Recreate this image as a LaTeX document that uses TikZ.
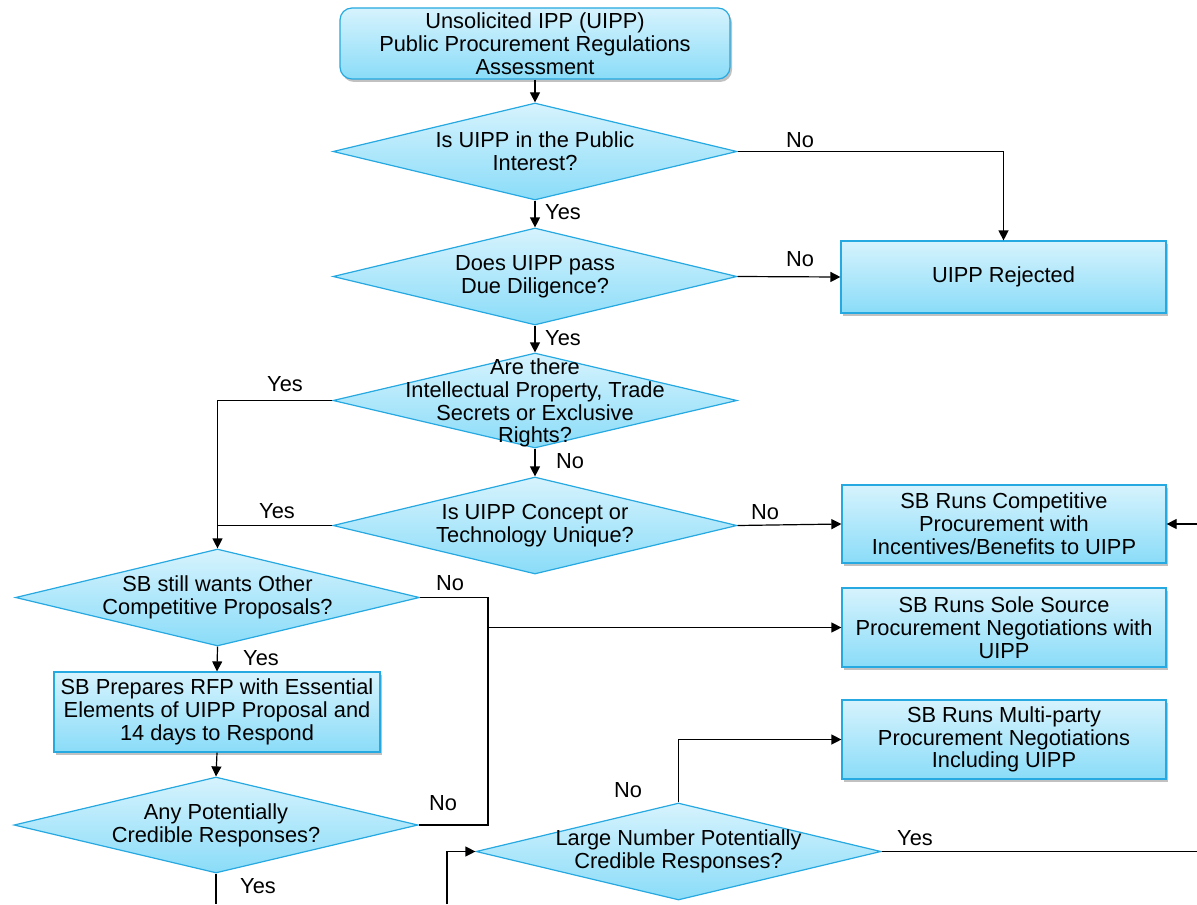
\documentclass[tikz,border=0pt]{standalone}
\usepackage{fontspec}
\setmainfont{Liberation Sans}
\usetikzlibrary{shapes.geometric,arrows.meta,shadows}
\definecolor{fillTop}{RGB}{214,243,253}
\definecolor{fillBot}{RGB}{138,220,248}
\definecolor{edgeBlue}{RGB}{38,168,224}
\begin{document}
\begin{tikzpicture}[x=0.5pt,y=-0.5pt,
  txt/.style={font=\fontsize{10.9}{11.4}\selectfont, align=center, inner sep=0pt},
  boxbase/.style={draw=edgeBlue, line width=0.6pt, top color=fillTop, bottom color=fillBot,
     drop shadow={shadow xshift=1pt, shadow yshift=-1.5pt, opacity=0.35, fill=black!70},
     font=\fontsize{10.9}{11.4}\selectfont, align=center, inner sep=2pt},
  procbox/.style={boxbase, rectangle, minimum width=162pt},
  startbox/.style={boxbase, rectangle, rounded corners=6pt},
  dia/.style={diamond, draw=edgeBlue, line width=0.6pt, top color=fillTop, bottom color=fillBot,
     inner sep=0pt, minimum width=202pt},
  lbl/.style={font=\fontsize{10.9}{11.4}\selectfont, inner sep=0pt},
  conn/.style={draw=black, line width=0.6pt},
  arr/.style={conn, -{Triangle[length=5pt,width=5pt]}}
]
\useasboundingbox (0,0) rectangle (1197,904);

% start
\node[startbox, minimum width=195pt, minimum height=35.5pt] (start) at (535,43.5)
  {Unsolicited IPP (UIPP)\\Public Procurement Regulations\\Assessment};

% diamonds
\node[dia, minimum height=48.5pt] (d1) at (535,151.5) {};
\node[txt] (t1) at (d1) {Is UIPP in the Public\\Interest?};
\node[dia, minimum height=48.5pt] (d2) at (535,276.5) {};
\node[txt] (t2) at (d2) {Does UIPP pass\\Due Diligence?};
\node[dia, minimum height=47.5pt] (d3) at (535,400.5) {};
\node[txt] (t3) at (535,403) {Are there\\Intellectual Property, Trade\\Secrets or Exclusive\\Rights?};
\node[dia, minimum height=48.5pt] (d4) at (535,525.5) {};
\node[txt] (t4) at (d4) {Is UIPP Concept or\\Technology Unique?};
\node[dia, minimum height=48.5pt] (d5) at (217.5,597.5) {};
\node[txt] (t5) at (d5) {SB still wants Other\\Competitive Proposals?};
\node[dia, minimum height=48pt] (d6) at (216,825) {};
\node[txt] (t6) at (d6) {Any Potentially\\Credible Responses?};
\node[dia, minimum height=48.5pt, minimum width=202.5pt] (d7) at (678.5,851.5) {};
\node[txt] (t7) at (d7) {Large Number Potentially\\Credible Responses?};

% process boxes
\node[procbox, minimum height=36pt, minimum width=162.5pt] (rej) at (1003.5,277) {UIPP Rejected};
\node[procbox, minimum height=39pt] (comp) at (1004,524)
  {SB Runs Competitive\\Procurement with\\Incentives/Benefits to UIPP};
\node[procbox, minimum height=39.5pt] (ss) at (1004,627.5)
  {SB Runs Sole Source\\Procurement Negotiations with\\UIPP};
\node[procbox, minimum height=39.5pt] (mp) at (1004,739.5)
  {SB Runs Multi-party\\Procurement Negotiations\\Including UIPP};
\node[procbox, minimum height=40pt, minimum width=163pt] (rfp) at (217,712)
  {SB Prepares RFP with Essential\\Elements of UIPP Proposal and\\14 days to Respond};

% coordinates
\coordinate (jn) at (488,627.5);
\coordinate (compin) at (1197,524);
\coordinate (out1) at (216,904);
\coordinate (out2) at (1197,851.5);
\coordinate (in7) at (447,904);

% connectors
\draw[arr] (start.south) -- (d1.north);
\draw[arr] (d1.east) -| (rej.north);
\draw[arr] (d1.south) -- (d2.north);
\draw[arr] (d2.east) -- (rej.west);
\draw[arr] (d2.south) -- (d3.north);
\draw[arr] (d3.west) -| (d5.north);
\draw[arr] (d3.south) -- (d4.north);
\draw[conn] (d4.west) -- (d4.west -| d5.north);
\draw[arr] (d4.east) -- (comp.west);
\draw[arr] (compin) -- (comp.east);
\draw[arr] (d5.east) -| (jn) -- (ss.west);
\draw[conn] (d6.east) -| (jn);
\draw[arr] (d5.south) -- (rfp.north);
\draw[arr] (rfp.south) -- (d6.north);
\draw[conn] (d6.south) -- (out1);
\draw[arr] (d7.north) |- (mp.west);
\draw[conn] (d7.east) -- (out2);
\draw[arr] (in7) |- (d7.west);

% labels
\node[lbl] (l1) at (800,140) {No};
\node[lbl] (l2) at (563,212) {Yes};
\node[lbl] (l3) at (800,259) {No};
\node[lbl] (l4) at (563,338) {Yes};
\node[lbl] (l5) at (285,384) {Yes};
\node[lbl] (l6) at (570,461) {No};
\node[lbl] (l7) at (277,511) {Yes};
\node[lbl] (l8) at (765,512) {No};
\node[lbl] (l9) at (450,583) {No};
\node[lbl] (l10) at (261,658) {Yes};
\node[lbl] (l11) at (443,803) {No};
\node[lbl] (l12) at (258,886) {Yes};
\node[lbl] (l13) at (628,790) {No};
\node[lbl] (l14) at (915,838) {Yes};
\end{tikzpicture}
\end{document}
